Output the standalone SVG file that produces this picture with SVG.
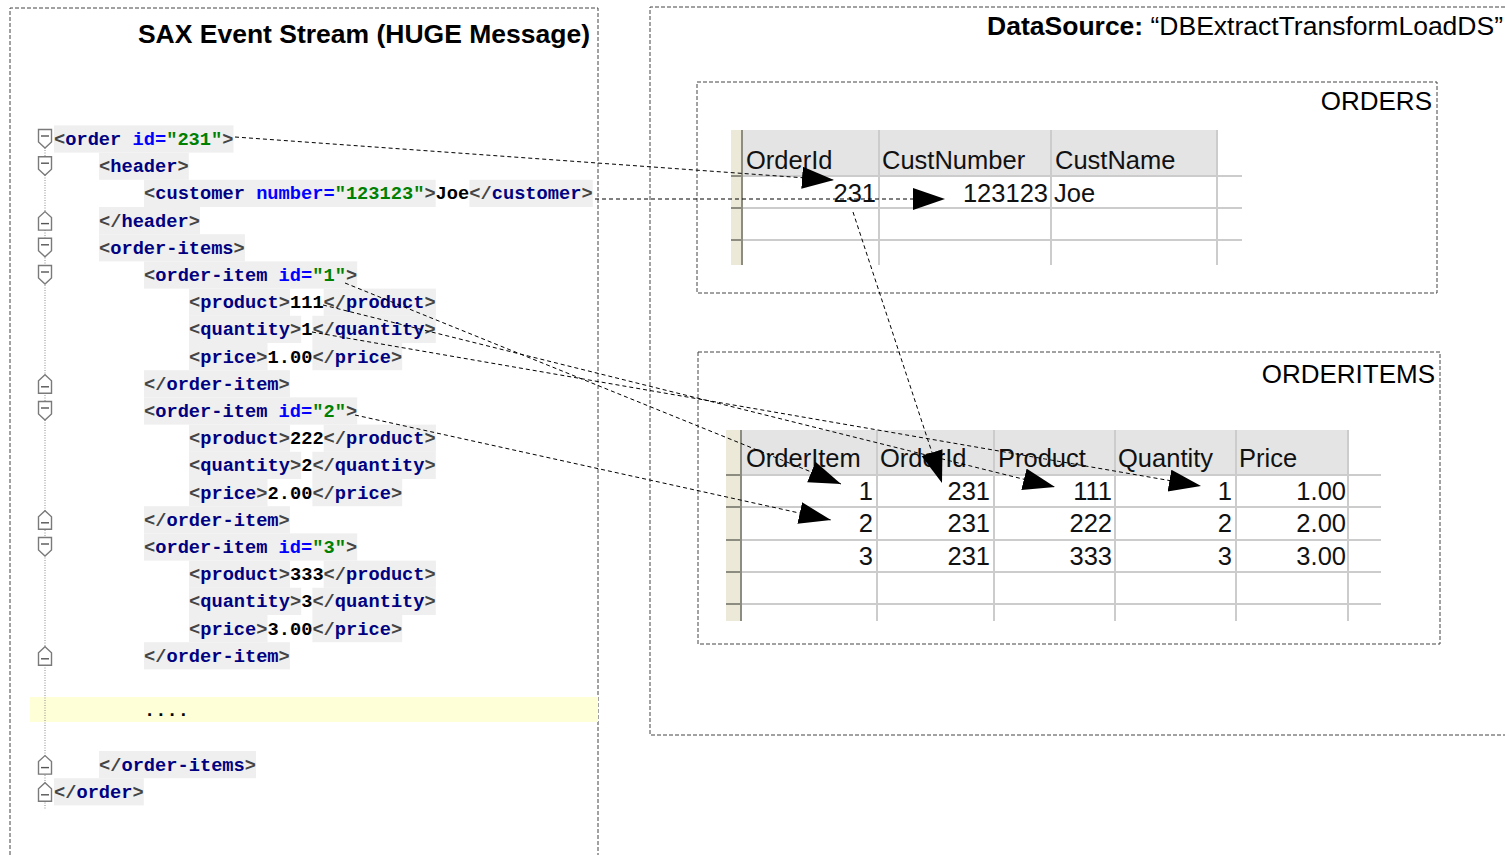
<svg xmlns="http://www.w3.org/2000/svg" width="1505" height="855" viewBox="0 0 1505 855">
  <style>
    .frame { fill: none; stroke: #444; stroke-width: 1; stroke-dasharray: 4 2; }
    .title { font-family: "Liberation Sans", Arial, sans-serif; font-size: 26.5px; fill: #000; }
    .tname { font-family: "Liberation Sans", Arial, sans-serif; font-size: 26px; fill: #000; }
    .cell { font-family: "Liberation Sans", Arial, sans-serif; font-size: 25.5px; fill: #111; }
    .num { text-anchor: end; }
    .code { font-family: "Liberation Mono", "DejaVu Sans Mono", monospace; font-size: 18.7px; font-weight: bold; }
    .b { fill: #444; }
    .t { fill: #000080; }
    .a { fill: #0000ff; }
    .v { fill: #008000; }
    .x { fill: #000; }
    .hl { fill: #efefef; }
    .grid { stroke: #cccccc; stroke-width: 2; fill: none; }
    .gut { fill: #ece9d8; }
    .gutline { stroke: #8c8c80; stroke-width: 2; fill: none; }
    .hdr { fill: #e4e4e4; }
    .fold { fill: #fff; stroke: #7a7a7a; stroke-width: 1.4; }
    .link { fill: none; stroke: #000; stroke-width: 1; stroke-dasharray: 4 3; marker-end: url(#head); }
  </style>
  <defs>
    <marker id="head" markerUnits="userSpaceOnUse" markerWidth="34" markerHeight="24" refX="32" refY="11" orient="auto">
      <path d="M0,0 L32,11 L0,22 Z" fill="#000"/>
    </marker>
    <g id="fold-open">
      <path class="fold" d="M-6.5,-9.5 H6.5 V3 L0,9 L-6.5,3 Z"/>
      <path d="M-4,-3 H4" stroke="#555" stroke-width="1.4"/>
    </g>
    <g id="fold-close">
      <path class="fold" d="M-6.5,9.5 H6.5 V-3 L0,-9 L-6.5,-3 Z"/>
      <path d="M-4,3 H4" stroke="#555" stroke-width="1.4"/>
    </g>
  </defs>

  <rect width="1505" height="855" fill="#fff"/>

  <!-- SAX event stream panel -->
  <g id="sax-stream">
    <path class="frame" d="M10,855 V8 H598 V855"/>
    <text class="title" x="590" y="43" text-anchor="end" font-weight="bold">SAX Event Stream (HUGE Message)</text>

    <!-- highlighted line ranges -->
    <g id="code-highlight">
      <rect x="30" y="697" width="568" height="25" fill="#ffffd7"/>
      <rect class="hl" x="54" y="125.4" width="179.5" height="27.2"/>
      <rect class="hl" x="99" y="152.6" width="89.8" height="27.2"/>
      <rect class="hl" x="144" y="179.8" width="291.7" height="27.2"/>
      <rect class="hl" x="469.4" y="179.8" width="123.4" height="27.2"/>
      <rect class="hl" x="99" y="207" width="101" height="27.2"/>
      <rect class="hl" x="99" y="234.2" width="145.9" height="27.2"/>
      <rect class="hl" x="144" y="261.4" width="213.2" height="27.2"/>
      <rect class="hl" x="189" y="288.6" width="101" height="27.2"/>
      <rect class="hl" x="323.7" y="288.6" width="112.2" height="27.2"/>
      <rect class="hl" x="189" y="315.8" width="112.2" height="27.2"/>
      <rect class="hl" x="312.4" y="315.8" width="123.4" height="27.2"/>
      <rect class="hl" x="189" y="343" width="78.5" height="27.2"/>
      <rect class="hl" x="312.4" y="343" width="89.8" height="27.2"/>
      <rect class="hl" x="144" y="370.2" width="145.9" height="27.2"/>
      <rect class="hl" x="144" y="397.4" width="213.2" height="27.2"/>
      <rect class="hl" x="189" y="424.6" width="101" height="27.2"/>
      <rect class="hl" x="323.7" y="424.6" width="112.2" height="27.2"/>
      <rect class="hl" x="189" y="451.8" width="112.2" height="27.2"/>
      <rect class="hl" x="312.4" y="451.8" width="123.4" height="27.2"/>
      <rect class="hl" x="189" y="479" width="78.5" height="27.2"/>
      <rect class="hl" x="312.4" y="479" width="89.8" height="27.2"/>
      <rect class="hl" x="144" y="506.2" width="145.9" height="27.2"/>
      <rect class="hl" x="144" y="533.4" width="213.2" height="27.2"/>
      <rect class="hl" x="189" y="560.6" width="101" height="27.2"/>
      <rect class="hl" x="323.7" y="560.6" width="112.2" height="27.2"/>
      <rect class="hl" x="189" y="587.8" width="112.2" height="27.2"/>
      <rect class="hl" x="312.4" y="587.8" width="123.4" height="27.2"/>
      <rect class="hl" x="189" y="615" width="78.5" height="27.2"/>
      <rect class="hl" x="312.4" y="615" width="89.8" height="27.2"/>
      <rect class="hl" x="144" y="642.2" width="145.9" height="27.2"/>
      <rect class="hl" x="99" y="751" width="157" height="27.2"/>
      <rect class="hl" x="54" y="778.2" width="89.8" height="27.2"/>
    </g>

    <!-- folding gutter -->
    <g id="fold-gutter">
      <path d="M45,140 V810" stroke="#8a8a8a" stroke-width="1" stroke-dasharray="1 1.5"/>
      <use href="#fold-open" x="45" y="139"/>
      <use href="#fold-open" x="45" y="166.2"/>
      <use href="#fold-close" x="45" y="220.6"/>
      <use href="#fold-open" x="45" y="247.8"/>
      <use href="#fold-open" x="45" y="275"/>
      <use href="#fold-close" x="45" y="383.8"/>
      <use href="#fold-open" x="45" y="411"/>
      <use href="#fold-close" x="45" y="519.8"/>
      <use href="#fold-open" x="45" y="547"/>
      <use href="#fold-close" x="45" y="655.8"/>
      <use href="#fold-close" x="45" y="764.6"/>
      <use href="#fold-close" x="45" y="791.8"/>
    </g>

    <!-- XML source lines -->
    <g class="code" xml:space="preserve">
      <text x="54" y="145"><tspan class="b">&lt;</tspan><tspan class="t">order</tspan> <tspan class="a">id=</tspan><tspan class="v">"231"</tspan><tspan class="b">&gt;</tspan></text>
      <text x="99" y="172.2"><tspan class="b">&lt;</tspan><tspan class="t">header</tspan><tspan class="b">&gt;</tspan></text>
      <text x="144" y="199.4"><tspan class="b">&lt;</tspan><tspan class="t">customer</tspan> <tspan class="a">number=</tspan><tspan class="v">"123123"</tspan><tspan class="b">&gt;</tspan><tspan class="x">Joe</tspan><tspan class="b">&lt;/</tspan><tspan class="t">customer</tspan><tspan class="b">&gt;</tspan></text>
      <text x="99" y="226.6"><tspan class="b">&lt;/</tspan><tspan class="t">header</tspan><tspan class="b">&gt;</tspan></text>
      <text x="99" y="253.8"><tspan class="b">&lt;</tspan><tspan class="t">order-items</tspan><tspan class="b">&gt;</tspan></text>
      <text x="144" y="281"><tspan class="b">&lt;</tspan><tspan class="t">order-item</tspan> <tspan class="a">id=</tspan><tspan class="v">"1"</tspan><tspan class="b">&gt;</tspan></text>
      <text x="189" y="308.2"><tspan class="b">&lt;</tspan><tspan class="t">product</tspan><tspan class="b">&gt;</tspan><tspan class="x">111</tspan><tspan class="b">&lt;/</tspan><tspan class="t">product</tspan><tspan class="b">&gt;</tspan></text>
      <text x="189" y="335.4"><tspan class="b">&lt;</tspan><tspan class="t">quantity</tspan><tspan class="b">&gt;</tspan><tspan class="x">1</tspan><tspan class="b">&lt;/</tspan><tspan class="t">quantity</tspan><tspan class="b">&gt;</tspan></text>
      <text x="189" y="362.6"><tspan class="b">&lt;</tspan><tspan class="t">price</tspan><tspan class="b">&gt;</tspan><tspan class="x">1.00</tspan><tspan class="b">&lt;/</tspan><tspan class="t">price</tspan><tspan class="b">&gt;</tspan></text>
      <text x="144" y="389.8"><tspan class="b">&lt;/</tspan><tspan class="t">order-item</tspan><tspan class="b">&gt;</tspan></text>
      <text x="144" y="417"><tspan class="b">&lt;</tspan><tspan class="t">order-item</tspan> <tspan class="a">id=</tspan><tspan class="v">"2"</tspan><tspan class="b">&gt;</tspan></text>
      <text x="189" y="444.2"><tspan class="b">&lt;</tspan><tspan class="t">product</tspan><tspan class="b">&gt;</tspan><tspan class="x">222</tspan><tspan class="b">&lt;/</tspan><tspan class="t">product</tspan><tspan class="b">&gt;</tspan></text>
      <text x="189" y="471.4"><tspan class="b">&lt;</tspan><tspan class="t">quantity</tspan><tspan class="b">&gt;</tspan><tspan class="x">2</tspan><tspan class="b">&lt;/</tspan><tspan class="t">quantity</tspan><tspan class="b">&gt;</tspan></text>
      <text x="189" y="498.6"><tspan class="b">&lt;</tspan><tspan class="t">price</tspan><tspan class="b">&gt;</tspan><tspan class="x">2.00</tspan><tspan class="b">&lt;/</tspan><tspan class="t">price</tspan><tspan class="b">&gt;</tspan></text>
      <text x="144" y="525.8"><tspan class="b">&lt;/</tspan><tspan class="t">order-item</tspan><tspan class="b">&gt;</tspan></text>
      <text x="144" y="553"><tspan class="b">&lt;</tspan><tspan class="t">order-item</tspan> <tspan class="a">id=</tspan><tspan class="v">"3"</tspan><tspan class="b">&gt;</tspan></text>
      <text x="189" y="580.2"><tspan class="b">&lt;</tspan><tspan class="t">product</tspan><tspan class="b">&gt;</tspan><tspan class="x">333</tspan><tspan class="b">&lt;/</tspan><tspan class="t">product</tspan><tspan class="b">&gt;</tspan></text>
      <text x="189" y="607.4"><tspan class="b">&lt;</tspan><tspan class="t">quantity</tspan><tspan class="b">&gt;</tspan><tspan class="x">3</tspan><tspan class="b">&lt;/</tspan><tspan class="t">quantity</tspan><tspan class="b">&gt;</tspan></text>
      <text x="189" y="634.6"><tspan class="b">&lt;</tspan><tspan class="t">price</tspan><tspan class="b">&gt;</tspan><tspan class="x">3.00</tspan><tspan class="b">&lt;/</tspan><tspan class="t">price</tspan><tspan class="b">&gt;</tspan></text>
      <text x="144" y="661.8"><tspan class="b">&lt;/</tspan><tspan class="t">order-item</tspan><tspan class="b">&gt;</tspan></text>
      <text x="144" y="716.2" class="x">....</text>
      <text x="99" y="770.6"><tspan class="b">&lt;/</tspan><tspan class="t">order-items</tspan><tspan class="b">&gt;</tspan></text>
      <text x="54" y="797.8"><tspan class="b">&lt;/</tspan><tspan class="t">order</tspan><tspan class="b">&gt;</tspan></text>
    </g>
  </g>

  <!-- data source panel -->
  <g id="datasource">
    <path class="frame" d="M1505,7 H650 V735 H1505"/>
    <text class="title" x="1503" y="35" text-anchor="end"><tspan font-weight="bold">DataSource:</tspan> “DBExtractTransformLoadDS”</text>
  </g>

  <!-- ORDERS table -->
  <g id="orders">
    <rect class="frame" x="697" y="82" width="740" height="211"/>
    <text class="tname" x="1432" y="110" text-anchor="end">ORDERS</text>
    <rect class="gut" x="731" y="130" width="11" height="135"/>
    <rect class="hdr" x="743" y="130" width="474" height="46"/>
    <path class="grid" d="M731,176 H1242 M731,208 H1242 M731,240 H1242 M879,130 V265 M1051,130 V265 M1217,130 V265"/>
    <path class="gutline" d="M742,130 V265 M731,176 H742 M731,208 H742 M731,240 H742"/>
    <g class="cell">
      <text x="746" y="169">OrderId</text>
      <text x="882" y="169">CustNumber</text>
      <text x="1055" y="169">CustName</text>
      <text class="num" x="876" y="202">231</text>
      <text class="num" x="1048" y="202">123123</text>
      <text x="1054" y="202">Joe</text>
    </g>
  </g>

  <!-- ORDERITEMS table -->
  <g id="orderitems">
    <rect class="frame" x="698" y="352" width="742" height="292"/>
    <text class="tname" x="1435" y="383" text-anchor="end">ORDERITEMS</text>
    <rect class="gut" x="726" y="430" width="14" height="191"/>
    <rect class="hdr" x="741" y="430" width="607" height="45"/>
    <path class="grid" d="M726,475 H1381 M726,507 H1381 M726,540 H1381 M726,572 H1381 M726,604 H1381 M877,430 V621 M994,430 V621 M1115,430 V621 M1236,430 V621 M1348,430 V621"/>
    <path class="gutline" d="M741,430 V621 M726,475 H741 M726,507 H741 M726,540 H741 M726,572 H741 M726,604 H741"/>
    <g class="cell">
      <text x="746" y="467">OrderItem</text>
      <text x="880" y="467">OrderId</text>
      <text x="998" y="467">Product</text>
      <text x="1118" y="467">Quantity</text>
      <text x="1239" y="467">Price</text>
      <text class="num" x="873" y="500">1</text>
      <text class="num" x="990" y="500">231</text>
      <text class="num" x="1112" y="500">111</text>
      <text class="num" x="1232" y="500">1</text>
      <text class="num" x="1346" y="500">1.00</text>
      <text class="num" x="873" y="532">2</text>
      <text class="num" x="990" y="532">231</text>
      <text class="num" x="1112" y="532">222</text>
      <text class="num" x="1232" y="532">2</text>
      <text class="num" x="1346" y="532">2.00</text>
      <text class="num" x="873" y="565">3</text>
      <text class="num" x="990" y="565">231</text>
      <text class="num" x="1112" y="565">333</text>
      <text class="num" x="1232" y="565">3</text>
      <text class="num" x="1346" y="565">3.00</text>
    </g>
  </g>

  <!-- mappings from stream events to table cells -->
  <g id="connectors">
    <path class="link" d="M235,137 L834,180"/>
    <path class="link" d="M595,199 L945,199"/>
    <path class="link" d="M853,212 L942,483"/>
    <path class="link" d="M345,283 L841,484"/>
    <path class="link" d="M323,305 L1055,487"/>
    <path class="link" d="M312,332 L1201,486"/>
    <path class="link" d="M355,415 L831,520"/>
  </g>
</svg>
